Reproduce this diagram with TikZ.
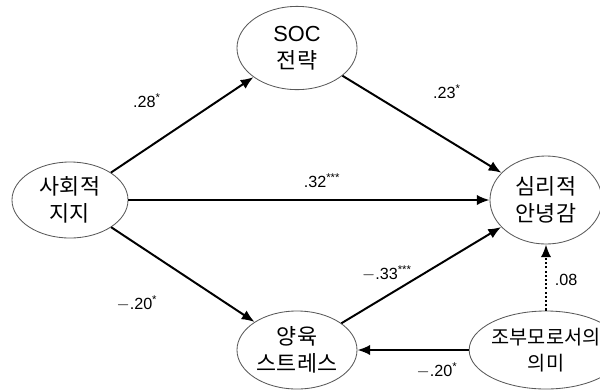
\documentclass[tikz,border=0pt]{standalone}
\usepackage{fontspec}
\setmainfont{Liberation Sans}
\newfontfamily\krfont{Noto Sans CJK KR}
\usetikzlibrary{arrows.meta, shapes.geometric}
\tikzset{
    latent/.style={ellipse, draw=black!65, line width=0.6pt, inner sep=0pt, align=center,
        font=\fontsize{15.5}{19.5}\selectfont\krfont},
    effect/.style={line width=1.4pt, -{Latex[length=3.2mm, width=2.6mm]}},
    coef/.style={font=\fontsize{11.5}{13}\selectfont, inner sep=1pt},
}

\begin{document}
\begin{tikzpicture}[x=0.025cm, y=-0.025cm]
    \useasboundingbox (0,0) rectangle (600,391);

    % Variables
    \node[latent, minimum width=2.9cm, minimum height=1.9cm] (social) at (70,200) {사회적\\지지};
    \node[latent, minimum width=3cm, minimum height=2.08cm] (soc) at (297,48) {{\rmfamily SOC}\\전략};
    \node[latent, minimum width=2.8cm, minimum height=2.2cm] (wellbeing) at (546,200) {심리적\\안녕감};
    \node[latent, minimum width=3cm, minimum height=1.95cm] (stress) at (297,350) {양육\\스트레스};
    \node[latent, minimum width=2.75cm, minimum height=1.95cm,
        font=\fontsize{14}{19}\selectfont\krfont] (meaning) at (546,350) {조부모로서의\\의미};

    % Paths
    \draw[effect] (social) -- (soc);
    \draw[effect] (soc) -- (wellbeing);
    \draw[effect] (social) -- (wellbeing);
    \draw[effect] (social) -- (stress);
    \draw[effect] (stress) -- (wellbeing);
    \draw[effect] (meaning) -- (stress);
    \draw[effect, dash pattern=on 1.5pt off 1.5pt] (meaning) -- (wellbeing);

    % Coefficients
    \node[coef] (c1) at (147,101) {.28\textsuperscript{*}};
    \node[coef] (c2) at (447,92) {.23\textsuperscript{*}};
    \node[coef] (c3) at (322,181) {.32\textsuperscript{***}};
    \node[coef] (c4) at (137,303) {$-$.20\textsuperscript{*}};
    \node[coef] (c5) at (387,273) {$-$.33\textsuperscript{***}};
    \node[coef] (c6) at (437,370) {$-$.20\textsuperscript{*}};
    \node[coef] (c7) at (566,280) {.08};
\end{tikzpicture}
\end{document}
